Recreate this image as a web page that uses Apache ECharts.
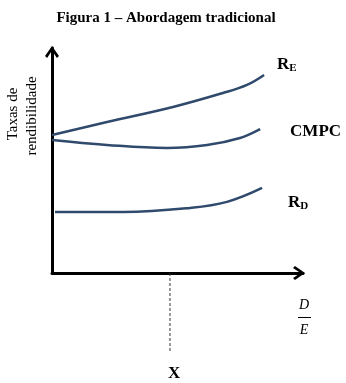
<!DOCTYPE html>
<html>
<head>
<meta charset="utf-8">
<script src="https://cdn.jsdelivr.net/npm/echarts@6/dist/echarts.min.js"></script>
<style>
  html, body { margin: 0; padding: 0; background: #fff; }
  #chart { width: 346px; height: 383px; }
</style>
</head>
<body>
<div id="chart"></div>
<script>
  // curves (x: debt/equity, y: rate, both 0-100 scale)
  var reData = [[0, 61.3], [21.9, 67.1], [48.2, 73.8], [68.1, 80], [77.7, 83.6], [84.5, 88]];
  var cmpcData = [[0, 59.1], [21.9, 56.9], [45.8, 55.6], [61.8, 56.9], [74.9, 60], [82.9, 64]];
  var rdData = [[1.2, 27.1], [28.3, 27.1], [55, 28.9], [69.7, 31.6], [83.7, 37.8]];
  // optimal point X, dashed down below the axis
  var xPoint = [[47, 0], [47, -34.7]];

  var serif = 'Liberation Serif';
  var curveColor = '#2f4a6c';
  var chevron = 'path://M50,0 L100,72 L85,86 L50,32 L15,86 L0,72 Z';

  var rich = {
    m: { fontFamily: serif, fontWeight: 'bold', fontSize: 17, color: '#000' },
    s: { fontFamily: serif, fontWeight: 'bold', fontSize: 11, color: '#000', verticalAlign: 'bottom', padding: [7, 0, 0, 0] }
  };

  function curve(name, data, label, offset) {
    return {
      name: name,
      type: 'line',
      data: data,
      smooth: 0.4,
      symbol: 'none',
      lineStyle: { color: curveColor, width: 2.5 },
      endLabel: { show: true, formatter: label, offset: offset, rich: rich },
      silent: true
    };
  }

  var axisLine = {
    show: true,
    lineStyle: { color: '#000', width: 3 },
    symbol: ['none', chevron],
    symbolSize: [15, 12],
    symbolOffset: [0, -4]
  };

  var chart = echarts.init(document.getElementById('chart'));
  var option = {
    animation: false,
    title: {
      text: 'Figura 1 – Abordagem tradicional',
      left: 161, top: 6, textAlign: 'center',
      textStyle: { fontFamily: serif, fontWeight: 'bold', fontSize: 15, color: '#000' }
    },
    grid: { left: 52, right: 43, top: 48, bottom: 110 },
    xAxis: {
      type: 'value', min: 0, max: 100,
      axisLine: axisLine,
      axisTick: { show: false }, axisLabel: { show: false }, splitLine: { show: false }
    },
    yAxis: {
      type: 'value', min: 0, max: 100,
      axisLine: axisLine,
      axisTick: { show: false }, axisLabel: { show: false }, splitLine: { show: false }
    },
    graphic: [
      { type: 'text', x: 13, y: 114, rotation: Math.PI / 2,
        style: { text: 'Taxas de', font: '15px "Liberation Serif"', fill: '#000', align: 'center', verticalAlign: 'middle' } },
      { type: 'text', x: 32, y: 116, rotation: Math.PI / 2,
        style: { text: 'rendibilidade', font: '15px "Liberation Serif"', fill: '#000', align: 'center', verticalAlign: 'middle' } },
      { type: 'text', x: 304, y: 305,
        style: { text: 'D', font: 'italic 14px "Liberation Serif"', fill: '#000', align: 'center', verticalAlign: 'middle' } },
      { type: 'rect', shape: { x: 298, y: 317, width: 13, height: 1 }, style: { fill: '#000' } },
      { type: 'text', x: 304, y: 330,
        style: { text: 'E', font: 'italic 14px "Liberation Serif"', fill: '#000', align: 'center', verticalAlign: 'middle' } }
    ],
    series: [
      curve('RE', reData, '{m|R}{s|E}', [5, -10]),
      curve('CMPC', cmpcData, '{m|CMPC}', [22, 3]),
      curve('RD', rdData, '{m|R}{s|D}', [18, 15]),
      {
        name: 'X',
        type: 'line',
        data: xPoint,
        clip: false,
        symbol: 'none',
        lineStyle: { color: '#333', width: 1, type: [3, 2] },
        endLabel: { show: true, formatter: '{m|X}', rich: rich, position: 'bottom', offset: [-10, 23] },
        silent: true
      }
    ]
  };
  chart.setOption(option);
</script>
</body>
</html>
